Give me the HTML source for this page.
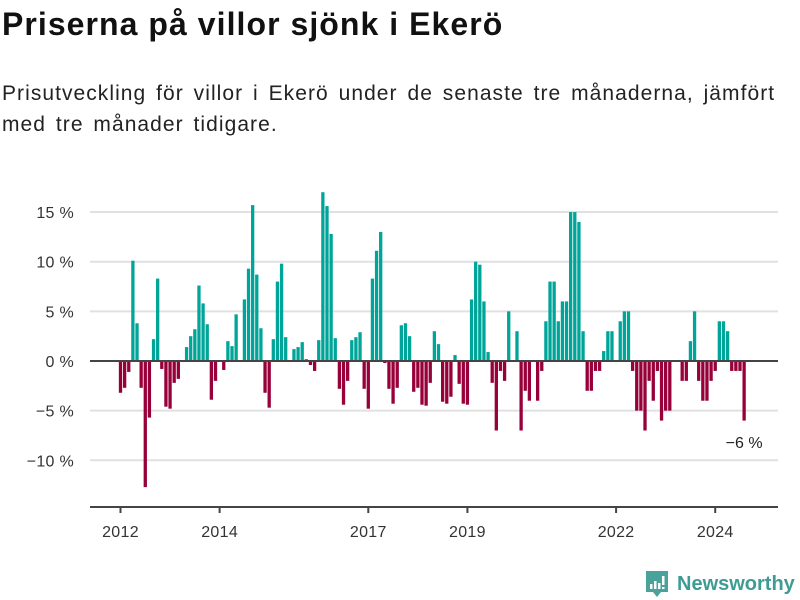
<!DOCTYPE html>
<html><head><meta charset="utf-8">
<style>
body{margin:0;width:800px;height:600px;background:#fff;font-family:"Liberation Sans","DejaVu Sans",sans-serif;overflow:hidden;position:relative}
h1{position:absolute;left:2px;top:6px;margin:0;font-size:32px;font-weight:bold;color:#111;letter-spacing:1.05px}
p{position:absolute;left:2px;top:78px;margin:0;font-size:21px;line-height:31px;color:#222;width:798px;letter-spacing:1.05px;word-spacing:3px}
svg{position:absolute;left:0;top:0}
</style></head><body>
<h1>Priserna på villor sjönk i Ekerö</h1>
<p>Prisutveckling för villor i Ekerö under de senaste tre månaderna, jämfört<br>med tre månader tidigare.</p>
<svg id="chart" width="800" height="600"></svg>
<script>
const values=[-3.2,-2.7,-1.1,10.1,3.8,-2.7,-12.7,-5.7,2.2,8.3,-0.8,-4.6,-4.8,-2.2,-1.8,0.1,1.4,2.5,3.2,7.6,5.8,3.7,-3.9,-2,0,-0.9,2,1.5,4.7,0.1,6.2,9.3,15.7,8.7,3.3,-3.2,-4.7,2.2,8,9.8,2.4,0,1.2,1.4,1.9,0.2,-0.4,-1,2.1,17,15.6,12.8,2.3,-2.8,-4.4,-2,2.1,2.4,2.9,-2.8,-4.8,8.3,11.1,13,-0.2,-2.8,-4.3,-2.7,3.6,3.8,2.5,-3.1,-2.7,-4.4,-4.5,-2.2,3,1.7,-4.1,-4.3,-3.6,0.6,-2.3,-4.3,-4.4,6.2,10,9.7,6,0.9,-2.2,-7,-1,-2,5,0,3,-7,-3,-4,0,-4,-1,4,8,8,4,6,6,15,15,14,3,-3,-3,-1,-1,1,3,3,0,4,5,5,-1,-5,-5,-7,-2,-4,-1,-6,-5,-5,0,0,-2,-2,2,5,-2,-4,-4,-2,-1,4,4,3,-1,-1,-1,-6];
const yTicks=[15,10,5,0,-5,-10];
const xTickYears=[2012,2014,2017,2019,2022,2024];
const startYear=2012;
const NS="http://www.w3.org/2000/svg";
const svg=document.getElementById('chart');
const y0=361, pxPer=9.93, x0=120.5, pxMonth=4.13;
const yScale=v=>y0-v*pxPer;
const xScale=i=>x0+i*pxMonth;
function mk(t,a){const e=document.createElementNS(NS,t);for(const k in a)e.setAttribute(k,a[k]);svg.appendChild(e);return e;}
yTicks.forEach(t=>{
  const y=yScale(t);
  if(t!==0){const g=mk('line',{x1:90,x2:778,y1:y,y2:y,stroke:'#e1e1e1','stroke-width':2});
  
  }
  const tx=mk('text',{x:74,y:y+6,'text-anchor':'end','font-size':16,fill:'#333','letter-spacing':0.3});
  tx.textContent=(t<0?'\u2212'+(-t):t)+' %';
  
  
});
values.forEach((v,i)=>{
  const x=xScale(i)-1.65;
  const y=v>=0?yScale(v):y0;
  const h=Math.abs(v)*pxPer;
  const r=mk('rect',{x:x,y:y,width:3.3,height:h,fill:v>=0?'#00a599':'#98003a'});
  
  
});
const z=mk('line',{x1:90,x2:778,y1:y0,y2:y0,stroke:'#444','stroke-width':2});


const ax=mk('line',{x1:90,x2:778,y1:507,y2:507,stroke:'#444','stroke-width':2});


xTickYears.forEach(yr=>{
  const x=xScale((yr-startYear)*12);
  const tk=mk('line',{x1:x,x2:x,y1:507,y2:513,stroke:'#444','stroke-width':2});
  
  
  const tx=mk('text',{x:x,y:537,'text-anchor':'middle','font-size':16,fill:'#333','letter-spacing':0.3});
  tx.textContent=yr;
  
  
});
const last=values.length-1;
const ann=mk('text',{x:xScale(last),y:448,'text-anchor':'middle','font-size':16,fill:'#222'});
ann.textContent=(values[last]<0?'\u2212'+(-values[last]):values[last])+' %';


</script>
<svg width="800" height="600" style="pointer-events:none">
<path d="M646 571 h22 v21 h-7 l-4 5 l-4 -5 h-7 z" fill="#4aa39b"/>
<rect x="650" y="584" width="2.5" height="5" fill="#fff"/><rect x="654" y="581" width="2.5" height="8" fill="#fff"/><rect x="658" y="583" width="2.5" height="6" fill="#fff"/><rect x="662" y="576" width="2.5" height="9" fill="#fff"/><rect x="662" y="587" width="2.5" height="2" fill="#fff"/>
<text x="677" y="590" font-size="20" font-weight="bold" fill="#3d9c94" font-family="Liberation Sans, sans-serif">Newsworthy</text>
</svg>
</body></html>
